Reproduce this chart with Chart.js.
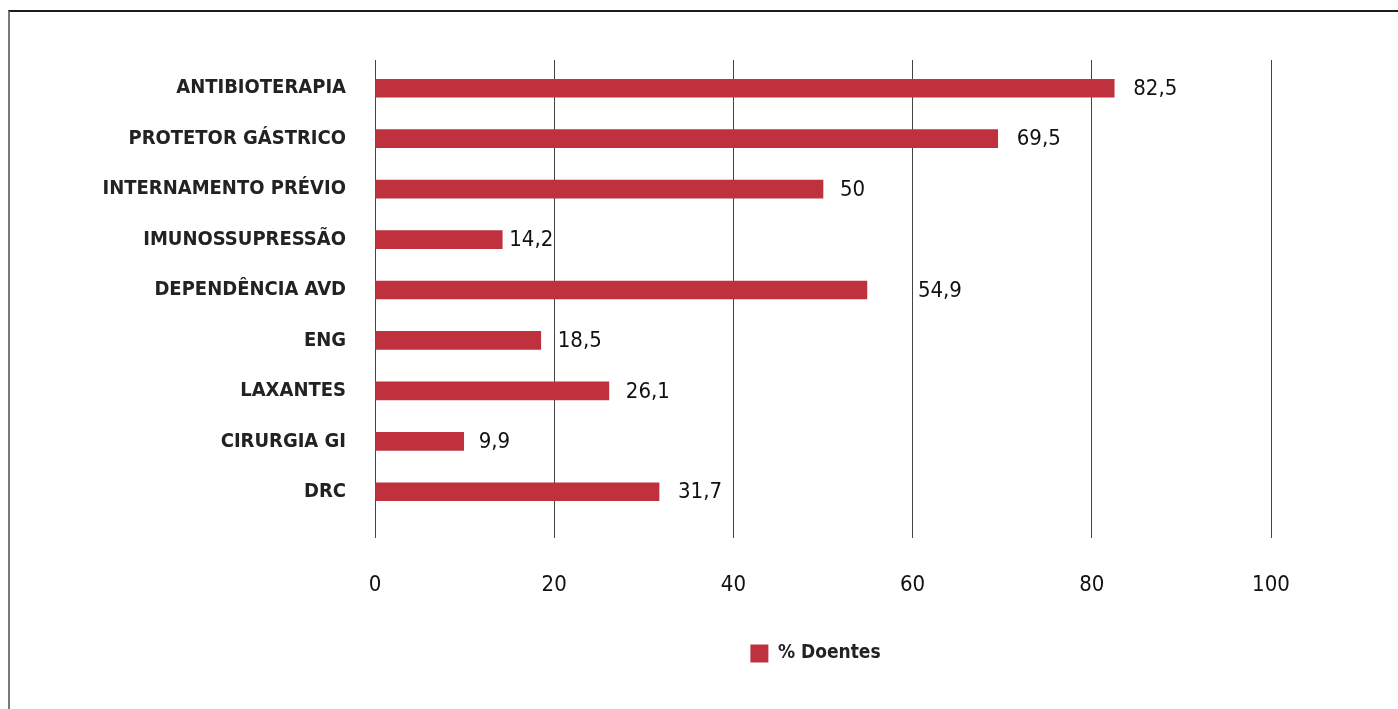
<!DOCTYPE html>
<html>
<head>
<meta charset="utf-8">
<script src="https://cdn.jsdelivr.net/npm/chart.js@4"></script>
<style>
    html, body { margin: 0; padding: 0; background: #fff; }
    #wrap { position: relative; width: 1398px; height: 709px; }
    #frame {
        position: absolute; left: 8px; top: 10px; right: 0; bottom: 0;
        border-top: 2px solid #1c1c1c; border-left: 2px solid #7a7a7a;
        pointer-events: none;
    }
</style>
</head>
<body>
<div id="wrap">
    <canvas id="chart" width="1398" height="709"></canvas>
    <div id="frame"></div>
</div>
<script>
// Chart data
const categories = [
    'ANTIBIOTERAPIA', 'PROTETOR GÁSTRICO', 'INTERNAMENTO PRÉVIO', 'IMUNOSSUPRESSÃO',
    'DEPENDÊNCIA AVD', 'ENG', 'LAXANTES', 'CIRURGIA GI', 'DRC'
];
const doentes = [82.5, 69.5, 50, 14.2, 54.9, 18.5, 26.1, 9.9, 31.7];
const xTicks = [0, 20, 40, 60, 80, 100];
const seriesLabel = '% Doentes';

// Gap between bar end and its value label (px), as in the original
const labelGaps = [19, 19, 17, 7, 51, 17, 17, 15, 19];

const FONT = "'Liberation Sans Narrow', 'DejaVu Sans Condensed', 'Roboto Condensed', 'Open Sans', sans-serif";
const BAR_RED = '#be313d';

// Draw value labels to the right of each bar
const valueLabels = {
    id: 'valueLabels',
    afterDatasetsDraw(chart) {
        const ctx = chart.ctx;
        const meta = chart.getDatasetMeta(0);
        ctx.save();
        ctx.font = '22px ' + FONT;
        ctx.fillStyle = '#111';
        ctx.textAlign = 'left';
        ctx.textBaseline = 'middle';
        meta.data.forEach((bar, i) => {
            const txt = String(doentes[i]).replace('.', ',');
            ctx.fillText(txt, bar.x + labelGaps[i], bar.y + 1);
        });
        ctx.restore();
    }
};

// Grid lines in the original start a little above the first category band
const gridTop = {
    id: 'gridTop',
    beforeDatasetsDraw(chart) {
        const ctx = chart.ctx;
        const xs = chart.scales.x;
        const top = chart.chartArea.top;
        ctx.save();
        ctx.strokeStyle = '#444';
        ctx.lineWidth = 1;
        xTicks.forEach(v => {
            // same pixel alignment Chart.js uses for its grid lines
            const x = Math.round(xs.getPixelForValue(v) - 0.5) + 0.5;
            ctx.beginPath();
            ctx.moveTo(x, top - 3);
            ctx.lineTo(x, top);
            ctx.stroke();
        });
        ctx.restore();
    }
};

// Centre the legend under the plot rather than the whole canvas
const legendShift = {
    id: 'legendShift',
    afterLayout(chart) {
        if (chart.legend) {
            chart.legend.left = 360;
            chart.legend.right = chart.chartArea.right;
        }
    }
};

new Chart(document.getElementById('chart'), {
    type: 'bar',
    data: {
        labels: categories,
        datasets: [{
            label: seriesLabel,
            data: doentes,
            backgroundColor: BAR_RED,
            borderWidth: 0,
            barThickness: 18
        }]
    },
    options: {
        indexAxis: 'y',
        responsive: false,
        animation: false,
        devicePixelRatio: 1,
        layout: {
            padding: { left: 0, right: 127, top: 63, bottom: 36 }
        },
        plugins: {
            legend: {
                position: 'bottom',
                labels: {
                    boxWidth: 18,
                    boxHeight: 18,
                    padding: 10,
                    color: '#222',
                    font: { family: FONT, size: 19, weight: 'bold' }
                }
            },
            tooltip: { enabled: false }
        },
        scales: {
            x: {
                min: 0,
                max: 100,
                afterBuildTicks(scale) {
                    scale.ticks = xTicks.map(v => ({ value: v }));
                },
                afterFit(scale) {
                    scale.height = 117;
                },
                grid: {
                    color: '#444',
                    lineWidth: 1,
                    drawTicks: true,
                    tickLength: 21
                },
                border: { display: false },
                ticks: {
                    color: '#111',
                    padding: 34,
                    font: { family: FONT, size: 22 }
                }
            },
            y: {
                afterFit(scale) {
                    scale.width = 375;
                },
                grid: { display: false },
                border: { display: false },
                ticks: {
                    color: '#222',
                    padding: 21,
                    font: { family: FONT, size: 20, weight: 'bold' }
                }
            }
        }
    },
    plugins: [gridTop, valueLabels, legendShift]
});
</script>
</body>
</html>
